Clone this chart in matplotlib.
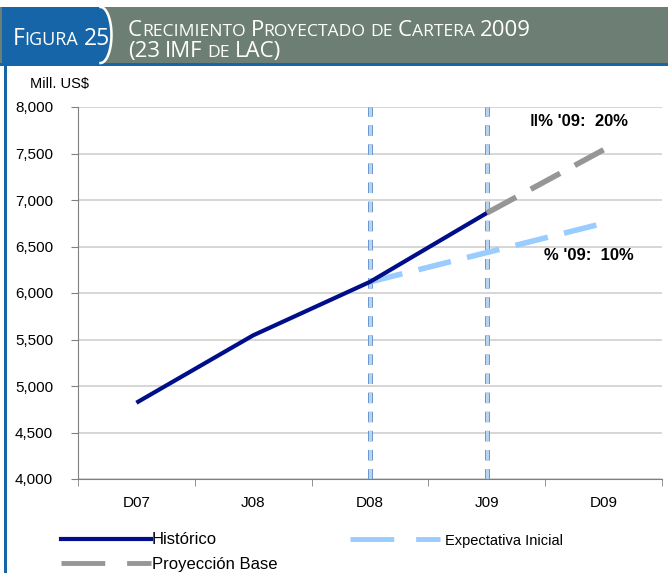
import matplotlib.pyplot as plt
from matplotlib.patches import Rectangle, Polygon
import matplotlib.patheffects as pe
import numpy as np

periods = ["D07", "J08", "D08", "J09", "D09"]
historico = [4820, 5545, 6120, 6860]
proyeccion_base = [6860, 7540]
expectativa_inicial = [6120, 6750]
yticks = [4000, 4500, 5000, 5500, 6000, 6500, 7000, 7500, 8000]

W, H = 668, 573
fig = plt.figure(figsize=(W / 100, H / 100), dpi=100)
plt.rcParams['font.family'] = ['Liberation Sans', 'DejaVu Sans']
HEAD_FONT = "Open Sans"

# background layer in pixel coords (y down)
bg = fig.add_axes([0, 0, 1, 1], zorder=-5)
bg.set_xlim(0, W)
bg.set_ylim(H, 0)
bg.axis("off")
bg.add_patch(Rectangle((0, 7), W, 56, facecolor="#6d7f74", edgecolor="none"))
t = np.linspace(-np.pi / 2, np.pi / 2, 40)
arc_x = 99 + 11 * np.cos(t)
arc_y = 35 + 28 * np.sin(t)
bg.add_patch(Polygon(np.column_stack([np.r_[2, arc_x, 2], np.r_[7, arc_y, 63]]),
                     closed=True, facecolor="#1565a8", edgecolor="none"))
bg.plot(arc_x + 1.5, arc_y, color="white", lw=1.8)
bg.add_patch(Rectangle((0, 63), W, 3, facecolor="#1565a8", edgecolor="none"))
bg.add_patch(Rectangle((4, 63), 3, H - 63, facecolor="#1565a8", edgecolor="none"))


def small_caps(x, y, s, big, small, color="white"):
    # small caps: first capital big, lower case letters drawn as smaller capitals
    r = fig.canvas.get_renderer()
    px = x
    for word_i, word in enumerate(s.split(" ")):
        if word_i > 0:
            px += big * 0.3
        pieces = []
        for ch in word:
            kind = ch.islower()
            if pieces and pieces[-1][0] == kind:
                pieces[-1][1] += ch
            else:
                pieces.append([kind, ch])
        for is_small, part in pieces:
            txt = fig.text(px / W, 1 - y / H, part.upper(), fontsize=small if is_small else big,
                           color=color, family=HEAD_FONT, va="baseline")
            px += txt.get_window_extent(r).width


small_caps(13, 45, "Figura 25", 16.5, 13)
small_caps(128, 36, "Crecimiento Proyectado de Cartera 2009", 16, 12.6)
small_caps(128, 57, "(23 IMF de LAC)", 16, 12.6)

ax = fig.add_axes([78 / W, 1 - 479 / H, 584 / W, 372 / H])
ax.patch.set_alpha(0)
x = list(range(len(periods)))

ax.plot(x[:4], historico, color="#000e8a", lw=3, solid_capstyle="butt", zorder=4)
ax.plot(x[3:5], proyeccion_base, color="#969696", lw=4, dashes=(6, 3), zorder=3)
ax.plot(x[2:5], [expectativa_inicial[0], (expectativa_inicial[0] + expectativa_inicial[1]) / 2,
                 expectativa_inicial[1]], color="#99ccff", lw=4, dashes=(6, 3), zorder=3)

for xv in [2, 3]:
    ax.plot([xv, xv], [4000, 8000], color="#b8d4f0", lw=2.5, dashes=(3, 2.5), zorder=2,
            path_effects=[pe.Stroke(linewidth=3.5, foreground="#4a7fc0"), pe.Normal()])

fig.text(30 / W, 1 - 84 / H, "Mill. US$", fontsize=10.5, va="center")

ax.text(3.37, 7840, "\u2016% '09:  20%", fontsize=12, fontweight="bold", va="center")
ax.text(3.49, 6398, "% '09:  10%", fontsize=12, fontweight="bold", va="center")

ax.set_xlim(-0.5, 4.5)
ax.set_ylim(4000, 8000)
ax.set_yticks(yticks)
ax.set_yticklabels([f"{v:,}" for v in yticks], fontsize=11)
ax.set_xticks(x)
ax.set_xticklabels(periods, fontsize=11)
ax.set_xticks([i - 0.5 for i in range(len(periods) + 1)], minor=True)
ax.tick_params(axis="x", which="major", length=0, pad=12)
ax.tick_params(axis="x", which="minor", length=5, color="#808080", direction="out")
ax.tick_params(axis="y", length=5, color="#808080", direction="out", pad=13)
ax.yaxis.grid(True, color="#d0d0d0", lw=1.2)
ax.set_axisbelow(True)
for side in ["top", "right"]:
    ax.spines[side].set_visible(False)
for side in ["left", "bottom"]:
    ax.spines[side].set_color("#808080")

# legend
def leg_line(x0, x1, y, **kw):
    fig.add_artist(plt.Line2D([x0 / W, x1 / W], [1 - y / H, 1 - y / H], transform=fig.transFigure, **kw))

leg_line(61, 151, 539, color="#000e8a", lw=3)
fig.text(152 / W, 1 - 539 / H, "Histórico", fontsize=12, va="center")
leg_line(350, 440, 539, color="#99ccff", lw=3.5, dashes=(9, 4.5))
fig.text(445 / W, 1 - 541 / H, "Expectativa Inicial", fontsize=10.5, va="center")
leg_line(61, 151, 563, color="#969696", lw=3.5, dashes=(9, 4.5))
fig.text(152 / W, 1 - 564 / H, "Proyección Base", fontsize=12, va="center")

fig.savefig("out.png", dpi=100)
